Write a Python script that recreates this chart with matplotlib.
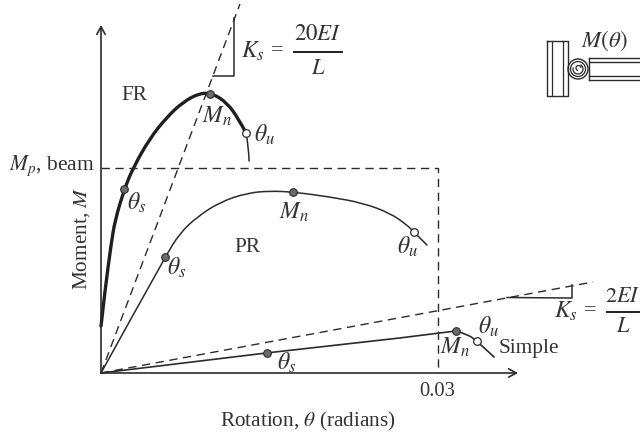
import matplotlib
matplotlib.use("Agg")
import matplotlib.pyplot as plt
from matplotlib.patches import Circle, Arc, PathPatch
from matplotlib.path import Path

plt.rcParams['font.family'] = ['Liberation Serif', 'DejaVu Serif']
plt.rcParams['mathtext.fontset'] = 'stix'

# rotation in radians, moment as a fraction of Mp
fr_rot = [0, .00036, .00089, .00125, .00209, .00285, .00436, .00588, .0073, .00881, .00997, .01122, .0122, .01291]
fr_mom = [.229, .405, .624, .746, .898, 1.0, 1.146, 1.249, 1.322, 1.366, 1.363, 1.317, 1.244, 1.171]
fr_tail_rot = [.01291, .01315, .01318]
fr_tail_mom = [1.171, 1.102, 1.034]
pr_rot = [0, .0057, .00703, .00855, .01059, .013, .01504, .01709, .02039, .02332, .02573, .02724, .02786, .02902]
pr_mom = [0, .566, .683, .761, .834, .878, .888, .883, .859, .829, .780, .722, .688, .624]
simple_rot = [0, .01478, .02662, .0316, .03258, .03347, .03499]
simple_mom = [0, .098, .171, .205, .190, .156, .078]

fr_ks = ([0, .01237], [0, 1.8])
simple_ks = ([0, .0438], [0, .444])
mp_rot = [0, .03, .03]
mp_mom = [1, 1, 0]

# (rotation, moment) of the solid markers and the open ones
solid_pts = [(.00209, .898), (.0097, 1.363), (.0057, .566), (.01709, .883), (.01478, .098), (.0316, .205)]
open_pts = [(.01291, 1.171), (.02786, .688), (.03347, .156)]

ink = '#2b2b2b'
W, H = 640, 438

fig = plt.figure(figsize=(6.4, 4.38), dpi=100)
ax = fig.add_axes([0, 0, 1, 1])
# origin sits at pixel (101, 373), 0.03 rad at x=438, Mp at y=168
ax.set_xlim(-101 * .03 / 337, (W - 101) * .03 / 337)
ax.set_ylim(-(H - 373) / 205, 373 / 205)
ax.axis('off')

# overlay in pixels for the annotation work
ov = fig.add_axes([0, 0, 1, 1])
ov.set_xlim(0, W)
ov.set_ylim(H, 0)
ov.axis('off')
ov.patch.set_alpha(0)


# smooth line through the read points, using them as bezier controls
def curve(xs, ys, color, lw):
    pts = list(zip(xs, ys))
    verts = [pts[0]]
    codes = [Path.MOVETO]
    for i in range(1, len(pts) - 1):
        end = pts[i + 1] if i == len(pts) - 2 else ((pts[i][0] + pts[i + 1][0]) / 2, (pts[i][1] + pts[i + 1][1]) / 2)
        verts += [pts[i], end]
        codes += [Path.CURVE3, Path.CURVE3]
    ax.add_patch(PathPatch(Path(verts, codes), fill=False, ec=color, lw=lw, capstyle='round'))


curve(fr_rot, fr_mom, '#1f1f1f', 2.4)
curve(fr_tail_rot, fr_tail_mom, ink, 1.1)
curve(pr_rot, pr_mom, ink, 1.1)
ax.plot(simple_rot[:4], simple_mom[:4], color=ink, lw=1.2)
curve(simple_rot[3:], simple_mom[3:], ink, 1.2)

dash = (0, (6, 4))
ax.plot(*fr_ks, color=ink, lw=1, linestyle=dash)
ax.plot(*simple_ks, color=ink, lw=1, linestyle=dash)
ax.plot(mp_rot, mp_mom, color=ink, lw=1, linestyle=dash)

for r, m in solid_pts:
    ax.plot(r, m, 'o', ms=5.5, mfc='#6a6a6a', mec=ink, mew=.8, zorder=5)
for r, m in open_pts:
    ax.plot(r, m, 'o', ms=5.5, mfc='white', mec=ink, mew=.9, zorder=5)

# axes with open arrow heads
arrow = dict(arrowstyle='->,head_length=0.55,head_width=0.3', color=ink, lw=1.2, shrinkA=0, shrinkB=0)
ov.annotate('', xy=(101, 25), xytext=(101, 373), arrowprops=arrow)
ov.annotate('', xy=(518, 373), xytext=(101, 373), arrowprops=arrow)

# stiffness triangles
ov.plot([234, 234, 213], [18, 76, 76], color=ink, lw=1.1)
ov.plot([572, 572, 507], [285, 298, 297.5], color=ink, lw=1.1)

# connection sketch
ov.plot([547, 568, 568, 547, 547], [41, 41, 96, 96, 41], color=ink, lw=1)
ov.plot([552, 552], [41, 96], color=ink, lw=.9)
ov.plot([563, 563], [41, 96], color=ink, lw=.9)
ov.add_patch(Circle((578, 69), 10, fill=False, ec=ink, lw=1))
ov.add_patch(Circle((578, 69), 7.5, fill=False, ec=ink, lw=.9))
ov.add_patch(Arc((578, 69), 10, 10, theta1=-60, theta2=200, ec=ink, lw=.9))
ov.add_patch(Arc((578.5, 68), 5, 5, theta1=100, theta2=360, ec=ink, lw=.9))
ov.plot([589, 589], [58, 80], color=ink, lw=1)
for y in [58, 62, 76, 80]:
    ov.plot([589, 640], [y, y], color=ink, lw=1)


def label(x, y, s, size=15.3, **kw):
    kw.setdefault('ha', 'center')
    ov.text(x, y, s, fontsize=size, color='#333333', va='center', **kw)


label(134, 95, 'FR')
label(247, 248, 'PR')
label(529, 348, 'Simple')
label(437, 391, '0.03', size=14.8)
label(308, 421, r'Rotation, $\theta$ (radians)')
label(82, 238, r'Moment, $M$', rotation=90)
label(95, 166, r'$M_p$, beam', ha='right', size=15.5)
label(604, 41, r'$M(\theta)$', size=16.5)

for x, y, s in [(217, 116, '$M_n$'), (294, 212, '$M_n$'), (455, 347, '$M_n$'),
                (137, 203, r'$\theta_s$'), (177, 268, r'$\theta_s$'), (287, 363, r'$\theta_s$'),
                (265, 135, r'$\theta_u$'), (408, 247, r'$\theta_u$'), (489, 327, r'$\theta_u$')]:
    label(x, y, s, size=17)

label(253, 51, '$K_s$', size=17)
label(277, 51, '=', size=16)
label(318, 34, '$20EI$', size=16.5)
ov.plot([294, 342], [52, 52], color='#1f1f1f', lw=1.4)
label(318, 70, '$L$', size=16)

label(566, 311, '$K_s$', size=17)
label(590, 311, '=', size=16)
label(623, 297, '$2EI$', size=16)
ov.plot([607, 640], [312, 312], color='#1f1f1f', lw=1.4)
label(623, 327, '$L$', size=16)

fig.savefig('out.png', dpi=100)
